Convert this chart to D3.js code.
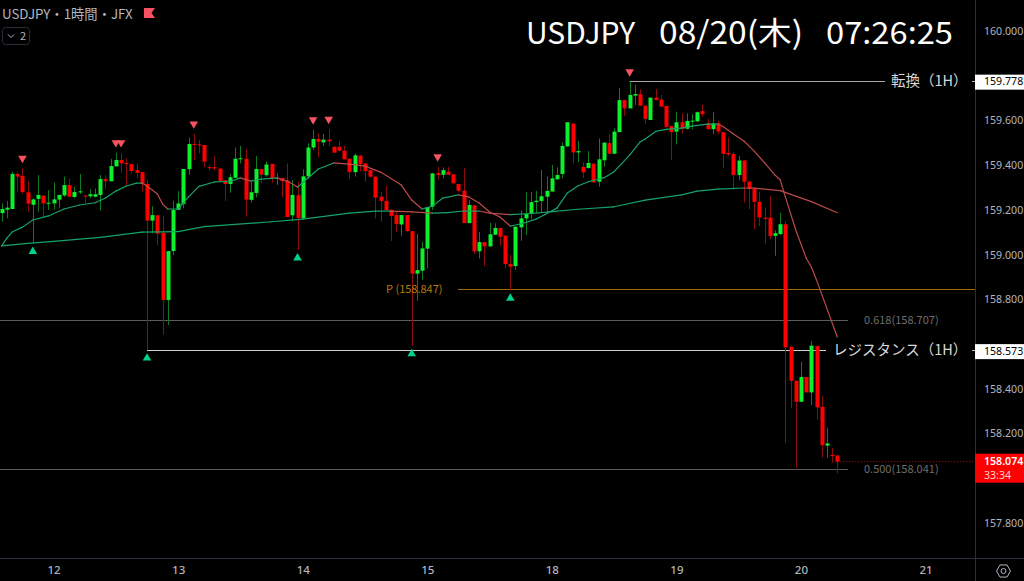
<!DOCTYPE html>
<html>
<head>
<meta charset="utf-8">
<script src="https://cdnjs.cloudflare.com/ajax/libs/d3/7.8.5/d3.min.js"></script>
<style>
html, body { margin: 0; padding: 0; background: #000; overflow: hidden; }
svg { display: block; }
text { font-family: "Noto Sans CJK JP", "Noto Sans", sans-serif; }
</style>
</head>
<body>
<div id="chart"></div>
<script>
// hourly bars, bar 0 sits 10 bars before the "12" tick
var opens = [
159.186,159.201,159.204,159.361,159.352,159.279,159.223,159.249,159.264,159.229,
159.229,159.246,159.265,159.311,159.258,159.280,159.264,159.261,159.259,159.267,
159.337,159.328,159.395,159.423,159.410,159.405,159.378,159.369,159.316,159.152,
159.176,159.098,158.797,159.016,159.200,159.227,159.382,159.495,159.493,159.490,
159.391,159.391,159.385,159.332,159.316,159.344,159.428,159.428,159.245,159.276,
159.383,159.355,159.406,159.340,159.343,159.332,159.176,159.265,159.163,159.350,
159.479,159.517,159.502,159.514,159.482,159.482,159.465,159.429,159.369,159.443,
159.408,159.378,159.349,159.259,159.240,159.201,159.177,159.135,159.177,159.105,
158.915,158.928,159.027,159.214,159.365,159.357,159.371,159.359,159.316,159.286,
159.141,159.220,159.015,159.056,159.037,159.089,159.119,159.085,158.958,158.949,
159.122,159.162,159.182,159.235,159.240,159.259,159.282,159.337,159.361,159.484,
159.586,159.457,159.392,159.387,159.407,159.326,159.422,159.499,159.451,159.548,
159.691,159.654,159.711,159.718,159.666,159.602,159.702,159.693,159.665,159.575,
159.550,159.592,159.563,159.597,159.596,159.642,159.587,159.561,159.587,159.548,
159.455,159.450,159.356,159.421,159.327,159.294,159.236,159.165,159.165,159.084,
159.092,159.136,158.588,158.436,158.342,158.453,158.384,158.591,158.320,158.146,158.104,158.102];

var highs = [
159.229,159.240,159.371,159.371,159.386,159.329,159.252,159.356,159.264,159.289,
159.322,159.267,159.349,159.341,159.304,159.361,159.264,159.292,159.296,159.356,
159.356,159.428,159.456,159.456,159.431,159.405,159.408,159.369,159.334,159.217,
159.176,159.173,159.016,159.240,159.284,159.383,159.523,159.540,159.513,159.490,
159.401,159.441,159.385,159.332,159.361,159.479,159.486,159.472,159.327,159.441,
159.383,159.416,159.406,159.364,159.343,159.408,159.334,159.327,159.382,159.498,
159.558,159.543,159.540,159.561,159.482,159.508,159.486,159.429,159.453,159.443,
159.408,159.378,159.349,159.281,159.308,159.201,159.192,159.177,159.177,159.105,
159.092,159.058,159.213,159.366,159.393,159.390,159.393,159.359,159.316,159.388,
159.244,159.220,159.102,159.056,159.143,159.140,159.119,159.085,158.998,159.125,
159.197,159.279,159.279,159.285,159.378,159.349,159.401,159.390,159.502,159.592,
159.586,159.508,159.413,159.463,159.407,159.520,159.501,159.538,159.565,159.744,
159.691,159.773,159.759,159.741,159.666,159.702,159.741,159.714,159.665,159.575,
159.639,159.632,159.632,159.628,159.640,159.672,159.606,159.637,159.599,159.548,
159.523,159.460,159.441,159.421,159.327,159.294,159.281,159.211,159.262,159.110,
159.187,159.151,158.588,158.436,158.521,158.453,158.614,158.591,158.368,158.225,158.137,158.102];

var lows = [
159.147,159.162,159.204,159.282,159.271,159.192,159.050,159.192,159.167,159.200,
159.200,159.207,159.259,159.256,159.252,159.271,159.229,159.252,159.256,159.197,
159.293,159.328,159.393,159.366,159.311,159.363,159.341,159.282,158.573,159.095,
159.043,158.643,158.685,158.998,159.200,159.207,159.356,159.423,159.453,159.391,
159.376,159.379,159.327,159.240,159.277,159.344,159.408,159.170,159.233,159.256,
159.319,159.349,159.322,159.312,159.256,159.168,159.148,159.021,159.158,159.341,
159.468,159.434,159.486,159.486,159.456,159.461,159.426,159.338,159.349,159.371,
159.326,159.344,159.162,159.147,159.199,159.061,159.102,159.083,159.102,158.593,
158.794,158.887,158.939,159.199,159.336,159.341,159.356,159.319,159.278,159.141,
159.140,159.003,158.983,158.949,159.035,159.088,159.039,158.939,158.841,158.931,
159.062,159.088,159.158,159.185,159.185,159.185,159.282,159.334,159.341,159.484,
159.408,159.413,159.341,159.386,159.323,159.304,159.393,159.451,159.451,159.548,
159.620,159.654,159.669,159.666,159.584,159.602,159.691,159.662,159.565,159.423,
159.493,159.542,159.560,159.560,159.593,159.616,159.561,159.539,159.537,159.388,
159.441,159.289,159.333,159.232,159.204,159.114,159.128,159.050,159.069,158.995,
159.087,158.156,158.313,158.047,158.342,158.384,158.327,158.263,158.092,158.092,158.070,158.022];

var closes = [
159.204,159.210,159.361,159.349,159.280,159.228,159.247,159.267,159.229,159.232,
159.247,159.267,159.311,159.259,159.280,159.283,159.261,159.270,159.270,159.338,
159.328,159.396,159.423,159.408,159.407,159.374,159.366,159.316,159.152,159.177,
159.094,158.797,159.016,159.200,159.229,159.383,159.495,159.492,159.489,159.416,
159.388,159.385,159.329,159.316,159.346,159.429,159.431,159.246,159.279,159.383,
159.358,159.403,159.341,159.343,159.329,159.168,159.267,159.164,159.350,159.479,
159.517,159.505,159.514,159.507,159.456,159.465,159.426,159.369,159.444,159.405,
159.374,159.349,159.255,159.240,159.199,159.173,159.137,159.177,159.105,158.915,
158.931,159.028,159.213,159.363,159.356,159.378,159.357,159.319,159.286,159.141,
159.222,159.015,159.056,159.037,159.091,159.119,159.080,158.958,158.946,159.125,
159.162,159.182,159.235,159.241,159.261,159.285,159.341,159.356,159.486,159.592,
159.457,159.463,159.368,159.410,159.323,159.426,159.501,159.451,159.550,159.691,
159.654,159.714,159.718,159.666,159.607,159.702,159.691,159.662,159.572,159.548,
159.592,159.563,159.598,159.599,159.637,159.628,159.561,159.587,159.551,159.451,
159.448,159.356,159.421,159.326,159.293,159.236,159.166,159.160,159.084,159.096,
159.136,158.585,158.436,158.342,158.453,158.384,158.593,158.317,158.148,158.156,158.102,158.074];

// fast moving average, read at these bars
var fastBars = [0,1,2,4,6,9,12,15,18,20,22,24,26,27,28,30,31,32,34,36,38,41,44,46,48,50,53,55,57,59,61,64,67,70,73,77,79,81,83,85,88,90,92,94,96,98,100,103,107,109,111,113,116,118,121,123,124,126,128,131,133,136,138,139,141,143,145,147,149,150,151,153,155,156,157,161];
var fastValues = [159.039,159.074,159.101,159.123,159.155,159.173,159.204,159.222,159.232,159.253,159.284,159.307,159.320,159.320,159.307,159.271,159.226,159.204,159.204,159.258,159.305,159.325,159.327,159.343,159.329,159.338,159.343,159.329,159.302,159.343,159.383,159.410,159.405,159.396,159.369,159.311,159.244,159.204,159.217,159.253,159.267,159.258,159.231,159.191,159.168,159.128,159.137,159.159,159.208,159.276,159.307,159.326,159.343,159.371,159.445,159.504,159.517,159.551,159.560,159.566,159.575,159.584,159.584,159.573,159.539,159.508,159.463,159.410,159.356,159.334,159.258,159.110,158.985,158.945,158.887,158.632];

// slow moving average
var slowBars = [0,5,10,19,27,34,39,52,58,67,72,75,79,83,86,89,92,94,98,102,106,111,118,124,131,134,138,143,145,150,156,161];
var slowValues = [159.039,159.050,159.059,159.077,159.101,159.103,159.125,159.147,159.159,159.186,159.195,159.195,159.191,159.186,159.188,159.195,159.195,159.186,159.179,159.184,159.192,159.203,159.214,159.244,159.267,159.284,159.293,159.298,159.297,159.286,159.237,159.187];

var sellSignals = [4,22,23,37,60,63,84,121];
var buySignals = [6,28,57,79,98];

var priceTicks = [160,159.6,159.4,159.2,159,158.8,158.4,158.2,157.8];
var dayBars = [10,34,58,82,106,130,154,178];
var dayLabels = ["12","13","14","15","18","19","20","21"];

var pivotPrice = 158.847;
var turnPrice = 159.778;
var resistPrice = 158.573;
var fib618 = 158.707;
var fib500 = 158.041;
var lastPrice = 158.074;

var width = 1024, height = 581;
var plotRight = 975, plotBottom = 558;
var axisFont = '"Noto Sans", sans-serif';
var axisSize = 10.6;

var svg = d3.select("#chart").append("svg")
    .attr("width", width)
    .attr("height", height)
    .style("background", "#000");

var x = d3.scaleLinear().domain([0, 178]).range([1.7, 925.5]);
var y = d3.scaleLinear().domain([157.8, 160]).range([523, 31]);

var bars = d3.range(opens.length);

svg.append("defs").append("clipPath").attr("id", "plot")
    .append("rect").attr("width", plotRight).attr("height", plotBottom);

var plot = svg.append("g").attr("clip-path", "url(#plot)");

// level lines
function level(price, x0, x1, color, w) {
    plot.append("line")
        .attr("x1", x0).attr("x2", x1)
        .attr("y1", Math.round(y(price)) + 0.5).attr("y2", Math.round(y(price)) + 0.5)
        .attr("stroke", color)
        .attr("stroke-width", w || 1);
}
level(fib618, 0, 848, "#5c5c5c");
level(fib500, 0, 848, "#5c5c5c");
level(pivotPrice, 458, plotRight, "#a06a10");
level(turnPrice, x(121), 885, "#a8a8a8");
level(resistPrice, x(28), 826, "#d0d0d0");

plot.append("line")
    .attr("x1", x(161)).attr("x2", plotRight)
    .attr("y1", y(lastPrice)).attr("y2", y(lastPrice))
    .attr("stroke", "#c01818")
    .attr("stroke-dasharray", "1 2");

// candles
var upBody = "#0cf02e", downBody = "#ff0000", upWick = "#0f7d1f", downWick = "#8c0c0c";

plot.selectAll(".wick").data(bars).enter().append("line")
    .attr("class", "wick")
    .attr("x1", function(d) { return Math.round(x(d)) + 0.5; })
    .attr("x2", function(d) { return Math.round(x(d)) + 0.5; })
    .attr("y1", function(d) { return y(highs[d]); })
    .attr("y2", function(d) { return y(lows[d]); })
    .attr("stroke", function(d) { return closes[d] >= opens[d] ? upWick : downWick; });

plot.selectAll(".body").data(bars).enter().append("rect")
    .attr("class", "body")
    .attr("x", function(d) { return Math.round(x(d)) - 1.5; })
    .attr("width", 4)
    .attr("y", function(d) { return y(Math.max(opens[d], closes[d])); })
    .attr("height", function(d) { return Math.max(1, Math.abs(y(opens[d]) - y(closes[d]))); })
    .attr("fill", function(d) { return closes[d] >= opens[d] ? upBody : downBody; });

// moving averages, coloured by direction
function maLine(barList, values) {
    var pairs = d3.pairs(d3.range(barList.length));
    plot.append("g").selectAll("line").data(pairs).enter().append("line")
        .attr("x1", function(d) { return x(barList[d[0]]); })
        .attr("x2", function(d) { return x(barList[d[1]]); })
        .attr("y1", function(d) { return y(values[d[0]]); })
        .attr("y2", function(d) { return y(values[d[1]]); })
        .attr("stroke-width", 1.2)
        .attr("stroke-linecap", "round")
        .attr("stroke", function(d) { return values[d[1]] >= values[d[0]] ? "#14a368" : "#bb4a48"; });
}
maLine(slowBars, slowValues);
maLine(fastBars, fastValues);

// signal markers
var tri = d3.symbol().type(d3.symbolTriangle).size(32);

plot.selectAll(".sell").data(sellSignals).enter().append("path")
    .attr("class", "sell")
    .attr("d", tri)
    .attr("fill", "#f7525f")
    .attr("transform", function(d) { return "translate(" + x(d) + "," + (y(highs[d]) - 10) + ") rotate(180)"; });

plot.selectAll(".buy").data(buySignals).enter().append("path")
    .attr("class", "buy")
    .attr("d", tri)
    .attr("fill", "#00d28c")
    .attr("transform", function(d) { return "translate(" + x(d) + "," + (y(lows[d]) + 8) + ")"; });

// labels on the plot
function label(txt, px, py, size, color, anchor) {
    return svg.append("text")
        .attr("x", px).attr("y", py)
        .attr("dy", "0.35em")
        .attr("font-size", size)
        .attr("fill", color)
        .attr("text-anchor", anchor || "start")
        .text(txt);
}
label("P (" + pivotPrice.toFixed(3) + ")", 386, y(pivotPrice), 11, "#b8780f");
label("0.618(" + fib618.toFixed(3) + ")", 864, y(fib618), 11, "#6e6e6e");
label("0.500(" + fib500.toFixed(3) + ")", 864, y(fib500), 11, "#6e6e6e");
label("転換（1H）", 891, y(turnPrice), 14.5, "#d8d8d8");
label("レジスタンス（1H）", 833, y(resistPrice), 14.5, "#d8d8d8");

// big clock header, three pieces
label("USDJPY", 526, 33, 30, "#ffffff");
label("08/20(木)", 659, 33, 31, "#ffffff").attr("textLength", 144).attr("lengthAdjust", "spacingAndGlyphs");
label("07:26:25", 826, 33, 31, "#ffffff").attr("textLength", 127).attr("lengthAdjust", "spacingAndGlyphs");

label("USDJPY・1時間・JFX", 2, 14, 13.3, "#b2b5be");

// flag + collapsed indicators button
svg.append("path").attr("d", "M144 8H155L151.5 13L155 18H144Z").attr("fill", "#f7525f");
svg.append("rect")
    .attr("x", 2.5).attr("y", 27.5).attr("width", 27).attr("height", 17).attr("rx", 3)
    .attr("fill", "none").attr("stroke", "#2a2e39");
svg.append("path").attr("d", "M8 34.5L11 37.5L14 34.5").attr("fill", "none").attr("stroke", "#b2b5be");
label("2", 20, 36, 11, "#b2b5be");

// axes
var axisRight = d3.axisRight(y)
    .tickValues(priceTicks)
    .tickFormat(d3.format(".3f"))
    .tickSize(0)
    .tickPadding(9);
var yAxis = svg.append("g").attr("transform", "translate(" + plotRight + ",0)").call(axisRight);

var axisBottom = d3.axisBottom(x)
    .tickValues(dayBars)
    .tickFormat(function(d, i) { return dayLabels[i]; })
    .tickSize(0)
    .tickPadding(8);
var xAxis = svg.append("g").attr("transform", "translate(0," + plotBottom + ")").call(axisBottom);

[yAxis, xAxis].forEach(function(a) {
    a.select(".domain").remove();
    a.selectAll("text")
        .attr("fill", "#b2b5be")
        .attr("font-size", axisSize)
        .style("font-family", axisFont);
});
xAxis.selectAll("text").attr("font-size", 11.5).attr("font-weight", 500);

svg.append("line").attr("x1", plotRight + 0.5).attr("x2", plotRight + 0.5)
    .attr("y1", 0).attr("y2", height).attr("stroke", "#2a2e39");
svg.append("line").attr("x1", 0).attr("x2", width)
    .attr("y1", plotBottom + 0.5).attr("y2", plotBottom + 0.5).attr("stroke", "#2a2e39");

// price tags
function priceTag(price) {
    svg.append("line")
        .attr("x1", 972).attr("x2", plotRight)
        .attr("y1", Math.round(y(price)) + 0.5).attr("y2", Math.round(y(price)) + 0.5)
        .attr("stroke", "#b4b4b4");
    svg.append("rect")
        .attr("x", plotRight).attr("width", width - plotRight)
        .attr("y", y(price) - 6).attr("height", 15)
        .attr("fill", "#ffffff");
    label(price.toFixed(3), 984, y(price) + 1, axisSize, "#000000").style("font-family", axisFont);
}
priceTag(turnPrice);
priceTag(resistPrice);

svg.append("rect")
    .attr("x", plotRight).attr("width", width - plotRight)
    .attr("y", y(lastPrice) - 8).attr("height", 29)
    .attr("fill", "#ff0000");
label(lastPrice.toFixed(3), 984, y(lastPrice) - 0.5, axisSize, "#ffffff")
    .attr("font-weight", 600).style("font-family", axisFont);
label("33:34", 984, y(lastPrice) + 14, axisSize, "#ffd0d0").style("font-family", axisFont);

// settings icon
svg.append("path")
    .attr("d", d3.line()(d3.range(6).map(function(i) {
        var a = Math.PI / 3 * i;
        return [1003.5 + 7 * Math.cos(a), 571 + 7 * Math.sin(a)];
    })) + "Z")
    .attr("fill", "none").attr("stroke", "#b2b5be");
svg.append("circle").attr("cx", 1003.5).attr("cy", 571).attr("r", 2.5)
    .attr("fill", "none").attr("stroke", "#b2b5be");
</script>
</body>
</html>
